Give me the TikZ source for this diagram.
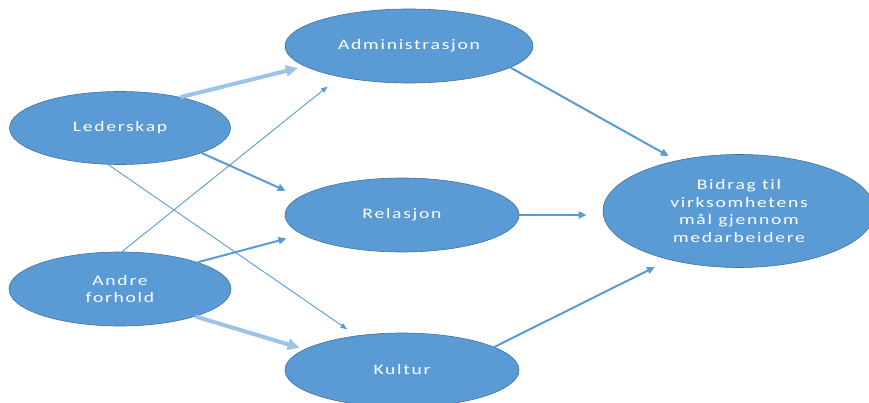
\documentclass[tikz,border=0pt]{standalone}
\usepackage{fontspec}
\setmainfont{Carlito}[FakeStretch=1.35, LetterSpace=12, Ligatures=NoCommon]
\usetikzlibrary{shapes.geometric,arrows.meta}
\definecolor{boxblue}{HTML}{5B9BD5}
\definecolor{boxedge}{HTML}{41719C}
\definecolor{paleblue}{HTML}{9DC3E6}
\begin{document}
\begin{tikzpicture}[x=1pt, y=-1pt,
    main/.style = {draw=boxedge, line width=0.6pt, fill=boxblue, ellipse, inner sep=0pt,
      text=white, align=center, font=\fontsize{14.5}{17.5}\selectfont},
    arr/.style = {boxblue, line width=2pt, -{Triangle[length=8pt,width=7pt]}},
    fine/.style = {boxblue, line width=0.9pt, -{Triangle[length=7pt,width=5pt]}},
    wide/.style = {paleblue, line width=4pt, -{Triangle[length=12pt,width=11pt]}}]
    \clip (0,0) rectangle (869,403);
    \node[main, minimum width=221, minimum height=73] (1) at (120,128) {Lederskap};
    \node[main, minimum width=222, minimum height=74] (2) at (120,289) {Andre\\forhold};
    \node[main, minimum width=248, minimum height=74] (3) at (409,46) {Administrasjon};
    \node[main, minimum width=234, minimum height=74] (4) at (402,215) {Relasjon};
    \node[main, minimum width=234, minimum height=74] (5) at (402,370) {Kultur};
    \node[main, minimum width=272, minimum height=113] (6) at (739,211)
      {Bidrag til\\virksomhetens\\mål gjennom\\medarbeidere};
    \draw[wide, shorten >=7pt] (1.27) -- (3.191);
    \draw[arr, shorten >=15pt] (1.343) -- (4.170);
    \draw[fine, shorten >=11pt] (1.252) -- (5.143);
    \draw[fine, shorten >=15pt] (2.87) -- (3.204);
    \draw[arr, shorten >=16pt] (2.19) -- (4.191);
    \draw[wide, shorten >=5pt] (2.340) -- (5.168);
    \draw[arr, shorten >=9pt] (3.348) -- (6.141);
    \draw[arr, shorten >=16pt] (4.east) -- (4.east -| 6.west);
    \draw[arr, shorten >=16pt] (5.14) -- (6.215);
  \end{tikzpicture}
\end{document}
